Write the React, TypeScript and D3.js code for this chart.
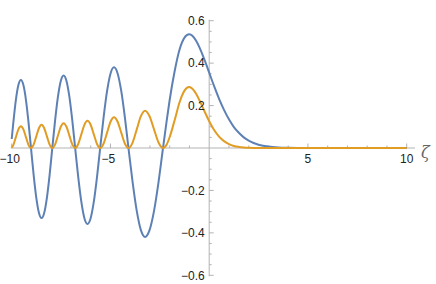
import React from "react";
import * as d3 from "d3";

const xs = [-10, -9.914, -9.7878, -9.6616, -9.5355, -9.4072, -9.2791, -9.1509, -9.0227, -8.8891, -8.7556, -8.622, -8.4885, -8.3524, -8.2163, -8.0802, -7.9441, -7.8011, -7.6582, -7.5152, -7.3722, -7.2258, -7.0794, -6.9331, -6.7867, -6.6309, -6.475, -6.3192, -6.1633, -6.0026, -5.8419, -5.6812, -5.5206, -5.3454, -5.1703, -4.9952, -4.8201, -4.6371, -4.454, -4.271, -4.088, -3.878, -3.6681, -3.4582, -3.2482, -3.0207, -2.7932, -2.5656, -2.3381, -2.15, -2.0, -1.75, -1.5, -1.25, -1.0188, -0.75, -0.5, -0.25, 0, 0.25, 0.5, 0.75, 1, 1.25, 1.5, 1.75, 2, 2.25, 2.5, 3, 3.5, 4, 4.5, 5, 6, 7, 8, 9, 10];

const blueValues = [0.0424, 0.1229, 0.227, 0.2966, 0.321, 0.2966, 0.227, 0.1229, 0, -0.1265, -0.2337, -0.3053, -0.3305, -0.3053, -0.2337, -0.1265, 0, 0.131, 0.242, 0.3162, 0.3423, 0.3162, 0.242, 0.131, 0, -0.137, -0.2531, -0.3307, -0.3579, -0.3307, -0.2531, -0.137, 0, 0.1456, 0.269, 0.3515, 0.3804, 0.3515, 0.269, 0.1456, 0, -0.1604, -0.2963, -0.3871, -0.419, -0.3871, -0.2963, -0.1604, 0, 0.13, 0.2274, 0.362, 0.4643, 0.52, 0.5357, 0.5177, 0.4757, 0.4188, 0.355, 0.2912, 0.2317, 0.18, 0.1353, 0.0987, 0.0718, 0.0502, 0.0349, 0.0234, 0.0157, 0.0066, 0.0025, 0.00095, 0.0003, 0.0001, 0, 0, 0, 0, 0];

const orangeValues = [0.0018, 0.0151, 0.0515, 0.088, 0.103, 0.088, 0.0515, 0.0151, 0, 0.016, 0.0546, 0.0932, 0.1092, 0.0932, 0.0546, 0.016, 0, 0.0172, 0.0586, 0.1, 0.1172, 0.1, 0.0586, 0.0172, 0, 0.0188, 0.0641, 0.1094, 0.1281, 0.1094, 0.0641, 0.0188, 0, 0.0212, 0.0724, 0.1236, 0.1447, 0.1236, 0.0724, 0.0212, 0, 0.0257, 0.0878, 0.1498, 0.1756, 0.1498, 0.0878, 0.0257, 0, 0.0169, 0.0517, 0.131, 0.2156, 0.2704, 0.287, 0.268, 0.2263, 0.1754, 0.126, 0.0848, 0.0537, 0.0324, 0.0183, 0.0097, 0.0052, 0.0025, 0.0012, 0.0005, 0.0002, 0.00004, 0, 0, 0, 0, 0, 0, 0, 0, 0];

const xMajorTicks = [-10, -5, 5, 10];
const xMinorTicks = [-9, -8, -7, -6, -4, -3, -2, -1, 1, 2, 3, 4, 6, 7, 8, 9];
const yMajorTicks = [-0.6, -0.4, -0.2, 0.2, 0.4, 0.6];
const yMinorTicks = [-0.55, -0.5, -0.45, -0.35, -0.3, -0.25, -0.15, -0.1, -0.05, 0.05, 0.1, 0.15, 0.25, 0.3, 0.35, 0.45, 0.5, 0.55];

const W = 436;
const H = 284;

export default function App() {
  const x = d3.scaleLinear().domain([-10, 10]).range([11.7, 406.7]);
  const y = d3.scaleLinear().domain([-0.6, 0.6]).range([275.3, 20.7]);
  const x0 = x(0);
  const y0 = y(0);

  const line = d3
    .line<number>()
    .x((_, i) => x(xs[i]))
    .y((d) => y(d))
    .curve(d3.curveMonotoneX);

  const axisColor = "#b3b3b3";
  const textColor = "#222";
  const fmt = (v: number) => {
    const s = Math.abs(v) < 1 ? Math.abs(v).toFixed(1) : String(Math.abs(v));
    return (v < 0 ? "\u2212" : "") + s;
  };

  return (
    <svg
      width={W}
      height={H}
      style={{ position: "absolute", left: 0, top: 0, background: "#fff" }}
      fontFamily="'Liberation Sans', Arial, sans-serif"
    >
      <line x1={x(-10) - 1} x2={415} y1={y0} y2={y0} stroke={axisColor} strokeWidth={1} />
      <line x1={x0} x2={x0} y1={y(0.6) - 1} y2={y(-0.6) + 1} stroke={axisColor} strokeWidth={1} />

      {xMinorTicks.map((t) => (
        <line key={"xm" + t} x1={x(t)} x2={x(t)} y1={y0} y2={y0 - 2.5} stroke={axisColor} />
      ))}
      {xMajorTicks.map((t) => (
        <line key={"xM" + t} x1={x(t)} x2={x(t)} y1={y0} y2={y0 - 4.5} stroke={axisColor} />
      ))}
      {yMinorTicks.map((t) => (
        <line key={"ym" + t} x1={x0} x2={x0 + 2.5} y1={y(t)} y2={y(t)} stroke={axisColor} />
      ))}
      {yMajorTicks.map((t) => (
        <line key={"yM" + t} x1={x0} x2={x0 + 4.5} y1={y(t)} y2={y(t)} stroke={axisColor} />
      ))}

      <path d={line(blueValues) || ""} fill="none" stroke="#5E81B5" strokeWidth={2} />
      <path d={line(orangeValues) || ""} fill="none" stroke="#E19C24" strokeWidth={2} />

      {xMajorTicks.map((t) => (
        <text
          key={"xl" + t}
          x={x(t) + (t < 0 ? -2 : 0)}
          y={y0 + 15}
          textAnchor="middle"
          fontSize={12}
          fill={textColor}
        >
          {fmt(t)}
        </text>
      ))}
      {yMajorTicks.map((t) => (
        <text
          key={"yl" + t}
          x={x0 - 4.5}
          y={y(t) + 4.2}
          textAnchor="end"
          fontSize={12}
          fill={textColor}
        >
          {fmt(t)}
        </text>
      ))}

      <text x={421} y={158} fontSize={16} fill="#666" fontStyle="italic" fontFamily="'DejaVu Serif', serif">
        ζ
      </text>
    </svg>
  );
}
